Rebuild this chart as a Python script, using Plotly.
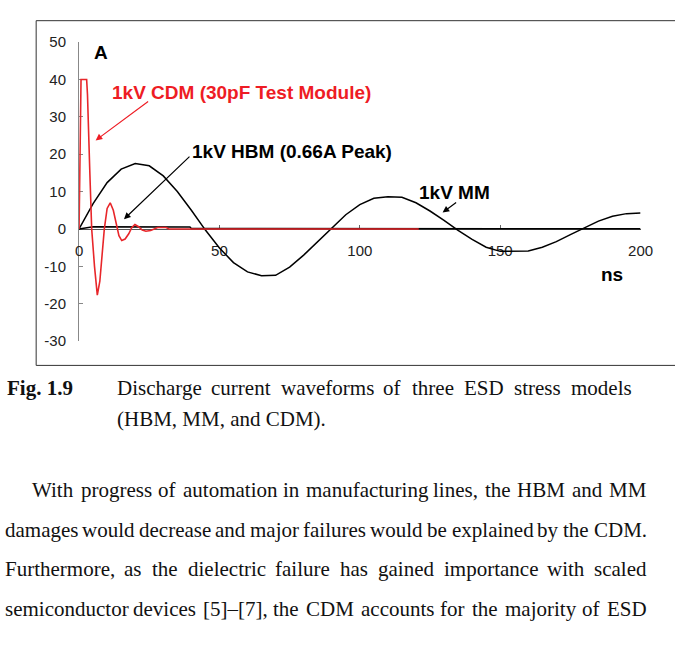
import plotly.graph_objects as go

W, H = 675, 648

# ---------------- data ----------------
mm_t = [0, 5, 10, 15, 20, 25, 30, 35, 40, 45, 50, 55, 60, 65, 70, 75, 80, 85, 90, 95,
        100, 105, 110, 115, 120, 125, 130, 135, 140, 145, 150, 155, 160, 165, 170, 175,
        180, 185, 190, 195, 200]
mm_i = [0, 6.8, 12.4, 16.0, 17.5, 16.9, 14.2, 10.0, 5.0, -0.3, -5.1, -9.0, -11.5, -12.5,
        -12.4, -10.2, -7.0, -3.4, 0.4, 3.8, 6.5, 8.2, 8.6, 8.5, 7.0, 4.8, 2.3, -0.4, -2.8,
        -4.9, -6.0, -6.0, -5.9, -4.9, -3.4, -1.5, 0.4, 2.1, 3.4, 4.1, 4.3]

hbm_t = [0, 5, 39.5, 40, 200]
hbm_i = [0, 0.6, 0.5, 0.1, 0.05]

cdm_t = [0, 0.7, 2.7, 3.0, 3.8, 4.5, 5.5, 6.5, 7.4, 8.0, 9.0, 10.0, 11.1, 12.2, 13.2,
         14.2, 15.2, 16.4, 17.7, 18.8, 19.9, 21.2, 22.5, 23.8, 25.5, 27, 28, 31, 32, 121]
cdm_i = [0, 40, 40, 36, 16, 0, -10, -17.7, -14, -9, 0, 5.5, 7.0, 5.0, 1.5,
         -1.8, -3.1, -2.7, -1.3, 0.4, 1.2, 0.6, -0.3, -0.6, -0.4, 0.1, 0.4, 0.4, 0, 0]

x_ticks = [0, 50, 100, 150, 200]
x_tick_text = ["0", "50", "100", "150", "200"]
y_ticks = [-30, -20, -10, 0, 10, 20, 30, 40, 50]
y_tick_text = ["-30", "-20", "-10", "0", "10", "20", "30", "40", "50"]

caption_tag = "Fig. 1.9"
caption_lines = ["Discharge current waveforms of three ESD stress models",
                 "(HBM, MM, and CDM)."]
para_lines = [
    "With progress of automation in manufacturing lines, the HBM and MM",
    "damages would decrease and major failures would be explained by the CDM.",
    "Furthermore, as the dielectric failure has gained importance with scaled",
    "semiconductor devices [5]\u2013[7], the CDM accounts for the majority of ESD",
]

# ---------------- geometry helpers ----------------
def px(x):
    return x / W

def py(y):
    return 1 - y / H

X0, X1 = 77, 653      # pixel of t=0 and t=200
Y50, Ym30 = 34, 341   # pixel of 50 A and -30 A
Y0 = Y50 + (Ym30 - Y50) * 50 / 80

# Times (Liberation Serif) advance widths, 1/1000 em
TW = dict(zip("abcdefghijklmnopqrstuvwxyz",
              [444, 500, 444, 500, 444, 333, 500, 500, 278, 278, 500, 278, 778, 500, 500,
               500, 500, 333, 389, 278, 500, 500, 722, 500, 500, 444]))
TW.update(dict(zip("ABCDEFGHIJKLMNOPQRSTUVWXYZ",
                   [722, 667, 667, 722, 611, 556, 722, 722, 333, 389, 722, 611, 889, 722,
                    722, 556, 722, 667, 556, 611, 722, 722, 944, 722, 722, 611])))
TW.update({c: 500 for c in "0123456789"})
TW.update({" ": 250, ",": 250, ".": 250, "(": 333, ")": 333, "[": 333, "]": 333,
           "\u2013": 500})

def tw(s, size):
    return sum(TW.get(c, 500) for c in s) / 1000 * size

SERIF = "Liberation Serif, Times New Roman, serif"
SANS = "Liberation Sans, Arial, sans-serif"
FS = 21

annotations = []

def justified(line, x0, x1, yc, size=FS):
    words = line.split(" ")
    total = sum(tw(w, size) for w in words)
    gap = (x1 - x0 - total) / (len(words) - 1)
    x = x0
    for w in words:
        annotations.append(dict(text=w, x=px(x - 1), y=py(yc), xref="paper", yref="paper",
                                xanchor="left", yanchor="middle", showarrow=False,
                                font=dict(family=SERIF, size=size, color="#111")))
        x += tw(w, size) + gap

def plain(line, x0, yc, size=FS, bold=False):
    t = f"<b>{line}</b>" if bold else line
    annotations.append(dict(text=t, x=px(x0 - 1), y=py(yc), xref="paper", yref="paper",
                            xanchor="left", yanchor="middle", showarrow=False,
                            font=dict(family=SERIF, size=size, color="#111")))

# caption
plain(caption_tag, 2, 389, bold=True)
justified(caption_lines[0], 115, 641, 389)
plain(caption_lines[1], 115, 421)

# paragraph
justified(para_lines[0], 28, 657, 494)
justified(para_lines[1], 0, 657, 535)
justified(para_lines[2], 0, 657, 575)
justified(para_lines[3], 0, 657, 616)

# chart labels
def lab(text, xc, yc, color="black", size=19):
    annotations.append(dict(text=f"<b>{text}</b>", x=px(xc), y=py(yc), xref="paper",
                            yref="paper", xanchor="center", yanchor="middle",
                            showarrow=False, font=dict(family=SANS, size=size, color=color)))

lab("A", 99, 45)
lab("1kV CDM (30pF Test Module)", 244, 86, color="#ee1c24")
lab("1kV HBM (0.66A Peak)", 295.5, 146)
lab("1kV MM", 462.5, 188)
lab("ns", 623.5, 273)

def arrow(xd, yd, ax, ay, color):
    annotations.append(dict(x=xd, y=yd, xref="x", yref="y", text="", showarrow=True,
                            ax=ax, ay=ay, axref="pixel", ayref="pixel", arrowhead=2,
                            arrowsize=1.1, arrowwidth=1.2, arrowcolor=color, standoff=0))

arrow(5.9, 23.7, 54, -40, "#ee1c24")
arrow(16.0, 2.6, 67, -64, "black")
arrow(129.5, 4.4, 15, -11, "black")

fig = go.Figure()
fig.add_trace(go.Scatter(x=mm_t, y=mm_i, mode="lines", name="1kV MM",
                         line=dict(color="black", width=1.5)))
fig.add_trace(go.Scatter(x=hbm_t, y=hbm_i, mode="lines", name="1kV HBM",
                         line=dict(color="black", width=1.5)))
fig.add_trace(go.Scatter(x=cdm_t, y=cdm_i, mode="lines", name="1kV CDM",
                         line=dict(color="#e8262a", width=1.6)))

fig.update_layout(
    width=W, height=H, margin=dict(l=0, r=0, t=0, b=0),
    paper_bgcolor="white", plot_bgcolor="white", showlegend=False,
    xaxis=dict(range=[0, 200], domain=[px(X0), px(X1)], anchor="free", position=py(Y0),
               tickvals=x_ticks, ticktext=x_tick_text, ticks="inside", ticklen=4,
               tickcolor="#666", showline=True, linecolor="#555", linewidth=1,
               showgrid=False, zeroline=False, layer="below traces", ticklabelstandoff=8,
               tickfont=dict(family=SANS, size=15, color="#222")),
    yaxis=dict(range=[-30, 50], domain=[py(Ym30), py(Y50)], tickvals=y_ticks,
               ticktext=y_tick_text, ticks="inside", ticklen=4, tickcolor="#888",
               showline=True, linecolor="#888", linewidth=1, showgrid=False,
               zeroline=False, layer="below traces", ticklabelstandoff=9,
               tickfont=dict(family=SANS, size=15, color="#222")),
    annotations=annotations,
    shapes=[dict(type="rect", xref="paper", yref="paper", x0=px(33), x1=1.05,
                 y0=py(366), y1=py(12), line=dict(color="#333", width=1))],
)

fig.write_html("out.html")
